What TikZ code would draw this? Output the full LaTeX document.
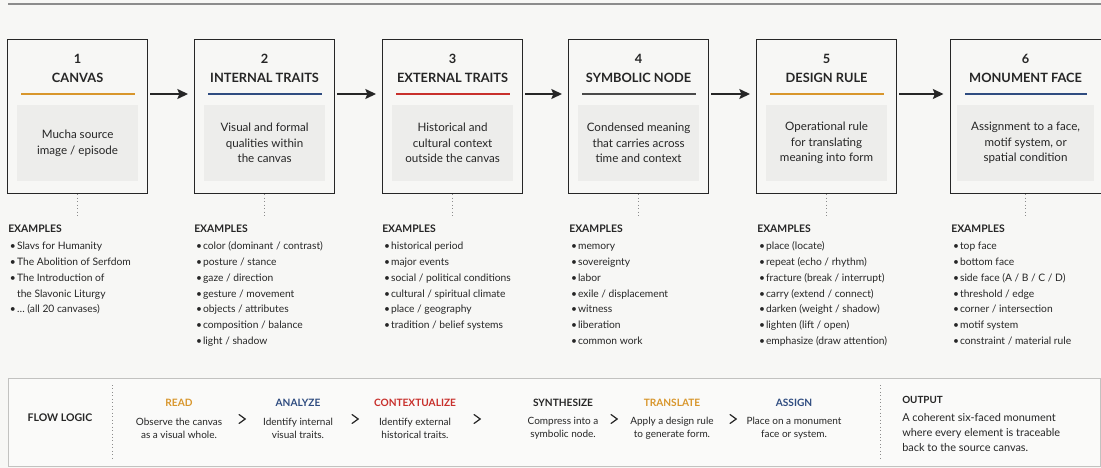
\documentclass[tikz,border=0pt]{standalone}
\usepackage{fontspec}
\setmainfont{Lato}
\usetikzlibrary{arrows.meta,calc}

\definecolor{bg}{HTML}{F7F7F5}
\definecolor{panel}{HTML}{EDEDEB}
\definecolor{ink}{HTML}{262626}
\definecolor{ochre}{HTML}{D8962C}
\definecolor{navy}{HTML}{2F4C80}
\definecolor{crimson}{HTML}{C8302C}
\definecolor{slate}{HTML}{4A4A4A}
\definecolor{frame}{HTML}{C2C2C0}
\definecolor{topline}{HTML}{8C8C8C}

\newcommand\bul{\makebox[6.6pt][l]{\hspace{1.3pt}\textbullet}}
\newcommand\cont{\makebox[6.6pt][l]{}}
\newcommand\exhead{\bfseries\fontsize{7.8}{9}\selectfont}

\tikzset{
  card/.style={draw=ink, line width=0.9pt, fill=bg, minimum width=105pt,
    minimum height=115.5pt, anchor=north west, inner sep=0pt},
  num/.style={font=\bfseries\fontsize{9.6}{11}\selectfont, text=ink},
  title/.style={font=\bfseries\fontsize{9.6}{11}\selectfont, text=ink},
  rulebar/.style={fill=#1, minimum width=85.5pt, minimum height=1.2pt, inner sep=0pt},
  inner/.style={fill=panel, minimum width=90.75pt, minimum height=57pt,
    align=center, inner sep=0pt, font=\fontsize{8.7}{11.8}\selectfont, text=ink},
  flow/.style={-{Stealth[length=8pt,width=7.5pt,inset=1.5pt]}, line width=1pt,
    draw=ink, shorten <=1.5pt, shorten >=4.5pt},
  tether/.style={draw=topline, line width=0.6pt, dotted},
  examples/.style={anchor=north west, align=left, inner sep=0pt,
    font=\fontsize{7.7}{11.85}\selectfont, text=ink},
  stephead/.style={font=\bfseries\fontsize{7.6}{9}\selectfont, text=#1},
  stepdesc/.style={align=center, inner sep=0pt,
    font=\fontsize{7.5}{9.75}\selectfont, text=ink},
  chev/.style={inner sep=0pt, minimum size=6pt},
  chevstroke/.style={draw=ink, line width=0.9pt, line cap=round, line join=miter},
}

\begin{document}
\begin{tikzpicture}[x=0.75pt, y=-0.75pt]
  % canvas
  \fill[bg] (0,0) rectangle (1101,468);
  \useasboundingbox (0,0) rectangle (1101,468);

  % top hairline
  \coordinate (tl) at (8,4);
  \coordinate (tr) at (1101,4);
  \draw[topline, line width=0.8pt] (tl) -- (tr);

  % ---- six stage cards ----
  \node[card] (c1) at (7,39) {};
  \node[card] (c2) at (194,39) {};
  \node[card] (c3) at (382,39) {};
  \node[card] (c4) at (568,39) {};
  \node[card] (c5) at (756,39) {};
  \node[card, minimum width=113.25pt] (c6) at (949.5,39) {};

  \node[num] (n1) at ($(c1.north)+(0,20)$) {1};
  \node[num] (n2) at ($(c2.north)+(0,20)$) {2};
  \node[num] (n3) at ($(c3.north)+(0,20)$) {3};
  \node[num] (n4) at ($(c4.north)+(0,20)$) {4};
  \node[num] (n5) at ($(c5.north)+(0,20)$) {5};
  \node[num] (n6) at ($(c6.north)+(0,20)$) {6};

  \node[title] (t1) at ($(c1.north)+(0,39)$) {CANVAS};
  \node[title] (t2) at ($(c2.north)+(0,39)$) {INTERNAL TRAITS};
  \node[title] (t3) at ($(c3.north)+(0,39)$) {EXTERNAL TRAITS};
  \node[title] (t4) at ($(c4.north)+(0,39)$) {SYMBOLIC NODE};
  \node[title] (t5) at ($(c5.north)+(0,39)$) {DESIGN RULE};
  \node[title] (t6) at ($(c6.north)+(0,39)$) {MONUMENT FACE};

  \node[rulebar=ochre] (r1) at ($(c1.north)+(0,55)$) {};
  \node[rulebar=navy] (r2) at ($(c2.north)+(0,55)$) {};
  \node[rulebar=crimson] (r3) at ($(c3.north)+(0,55)$) {};
  \node[rulebar=slate] (r4) at ($(c4.north)+(0,55)$) {};
  \node[rulebar=ochre] (r5) at ($(c5.north)+(0,55)$) {};
  \node[rulebar=navy, minimum width=91.5pt] (r6) at ($(c6.north)+(0,55)$) {};

  \node[inner] (b1) at ($(c1.north)+(0,104)$) {Mucha source\\image / episode};
  \node[inner] (b2) at ($(c2.north)+(0,104)$) {Visual and formal\\qualities within\\the canvas};
  \node[inner] (b3) at ($(c3.north)+(0,104)$) {Historical and\\cultural context\\outside the canvas};
  \node[inner] (b4) at ($(c4.north)+(0,104)$) {Condensed meaning\\that carries across\\time and context};
  \node[inner] (b5) at ($(c5.north)+(0,104)$) {Operational rule\\for translating\\meaning into form};
  \node[inner, minimum width=102.75pt] (b6) at ($(c6.north)+(0,104)$) {Assignment to a face,\\motif system, or\\spatial condition};

  % arrows between cards, level with the colour rules
  \draw[flow] (c1.east |- r1) -- (c2.west |- r1);
  \draw[flow] (c2.east |- r2) -- (c3.west |- r2);
  \draw[flow] (c3.east |- r3) -- (c4.west |- r3);
  \draw[flow] (c4.east |- r4) -- (c5.west |- r4);
  \draw[flow] (c5.east |- r5) -- (c6.west |- r5);

  % dotted tethers down to the example lists
  \foreach \i in {1,...,6} {
    \coordinate (d\i) at ($(c\i.south)+(0,23)$);
    \draw[tether] (c\i.south) -- (d\i);
  }

  % ---- example lists ----
  \node[examples] (e1) at ($(c1.south west)+(1,30)$) {{\exhead EXAMPLES}\\[1.3pt]
    \bul Slavs for Humanity\\
    \bul The Abolition of Serfdom\\
    \bul The Introduction of\\
    \cont the Slavonic Liturgy\\
    \bul \dots\ (all 20 canvases)};
  \node[examples] (e2) at ($(c2.south west)+(0,30)$) {{\exhead EXAMPLES}\\[1.3pt]
    \bul color (dominant / contrast)\\
    \bul posture / stance\\
    \bul gaze / direction\\
    \bul gesture / movement\\
    \bul objects / attributes\\
    \bul composition / balance\\
    \bul light / shadow};
  \node[examples] (e3) at ($(c3.south west)+(0,30)$) {{\exhead EXAMPLES}\\[1.3pt]
    \bul historical period\\
    \bul major events\\
    \bul social / political conditions\\
    \bul cultural / spiritual climate\\
    \bul place / geography\\
    \bul tradition / belief systems};
  \node[examples] (e4) at ($(c4.south west)+(1,30)$) {{\exhead EXAMPLES}\\[1.3pt]
    \bul memory\\
    \bul sovereignty\\
    \bul labor\\
    \bul exile / displacement\\
    \bul witness\\
    \bul liberation\\
    \bul common work};
  \node[examples] (e5) at ($(c5.south west)+(1,30)$) {{\exhead EXAMPLES}\\[1.3pt]
    \bul place (locate)\\
    \bul repeat (echo / rhythm)\\
    \bul fracture (break / interrupt)\\
    \bul carry (extend / connect)\\
    \bul darken (weight / shadow)\\
    \bul lighten (lift / open)\\
    \bul emphasize (draw attention)};
  \node[examples] (e6) at ($(c6.south west)+(1.5,30)$) {{\exhead EXAMPLES}\\[1.3pt]
    \bul top face\\
    \bul bottom face\\
    \bul side face (A / B / C / D)\\
    \bul threshold / edge\\
    \bul corner / intersection\\
    \bul motif system\\
    \bul constraint / material rule};

  % ---- flow logic panel ----
  \node[draw=frame, line width=0.8pt, fill=bg!60!white, anchor=north west,
        minimum width=819pt, minimum height=66pt, inner sep=0pt] (fp) at (8,378) {};
  \node[font=\bfseries\fontsize{7.9}{10}\selectfont, text=ink] (fl) at (60,418) {FLOW LOGIC};
  \coordinate (v1a) at (112,385);
  \coordinate (v1b) at (112,458);
  \draw[tether] (v1a) -- (v1b);

  \node[stephead=ochre] (h1) at (179,403) {READ};
  \node[stephead=navy] (h2) at (298,403) {ANALYZE};
  \node[stephead=crimson] (h3) at (415,403) {CONTEXTUALIZE};
  \node[stephead=ink] (h4) at (563,403) {SYNTHESIZE};
  \node[stephead=ochre] (h5) at (672,403) {TRANSLATE};
  \node[stephead=navy] (h6) at (794,403) {ASSIGN};

  \node[stepdesc] (s1) at (179,428) {Observe the canvas\\as a visual whole.};
  \node[stepdesc] (s2) at (298,428) {Identify internal\\visual traits.};
  \node[stepdesc] (s3) at (415,428) {Identify external\\historical traits.};
  \node[stepdesc] (s4) at (563,428) {Compress into a\\symbolic node.};
  \node[stepdesc] (s5) at (672,428) {Apply a design rule\\to generate form.};
  \node[stepdesc] (s6) at (794,428) {Place on a monument\\face or system.};

  % chevrons between the steps
  \node[chev] (g1) at (242,419) {};
  \node[chev] (g2) at (355,419) {};
  \node[chev] (g3) at (477,419) {};
  \node[chev] (g4) at (614,419) {};
  \node[chev] (g5) at (733,419) {};
  \foreach \i in {1,...,5} {
    \draw[chevstroke] ($(g\i)+(-3,-4.5)$) -- ($(g\i)+(3.2,0)$) -- ($(g\i)+(-3,4.5)$);
  }

  \coordinate (v2a) at (880,385);
  \coordinate (v2b) at (880,458);
  \draw[tether] (v2a) -- (v2b);

  \node[anchor=west, inner sep=0pt, font=\bfseries\fontsize{7.4}{10}\selectfont, text=ink] (oh) at (902,400) {OUTPUT};
  \node[anchor=north west, align=left, inner sep=0pt,
        font=\fontsize{8.2}{11.25}\selectfont, text=ink] (ob) at (902,413)
        {A coherent six-faced monument\\where every element is traceable\\back to the source canvas.};
\end{tikzpicture}
\end{document}
